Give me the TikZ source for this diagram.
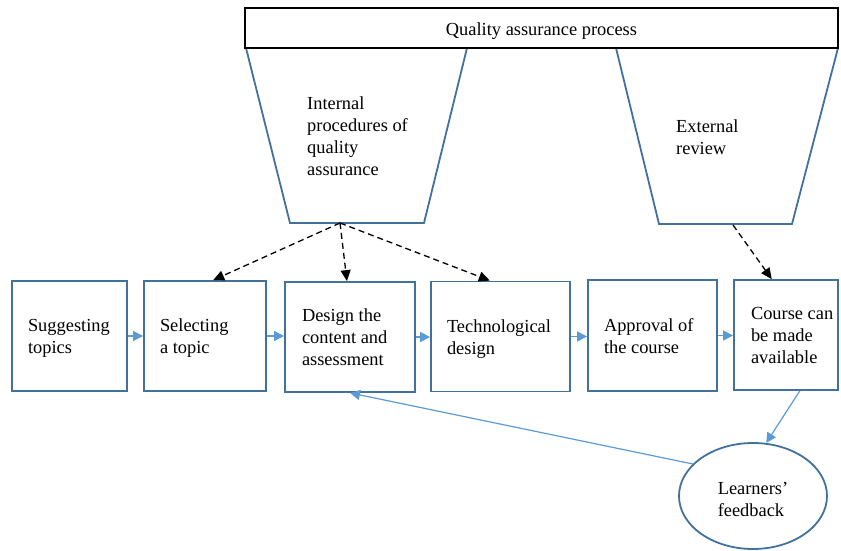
\documentclass[tikz,border=0pt]{standalone}
\usepackage{fontspec}
\setmainfont{Liberation Serif}
\usetikzlibrary{arrows.meta,shapes.geometric,calc}
\definecolor{boxblue}{HTML}{41719C}
\definecolor{arrowblue}{HTML}{5B9BD5}
% left-aligned multi-line text block
\newcommand\stack[1]{\begin{tabular}{@{}l@{}}#1\end{tabular}}
% text lowered a little without changing the size the node sees
\newcommand\lowered[2]{\raisebox{-#1}[\height][\depth]{#2}}
% fixed-width text block, left aligned, centred in its box
\newcommand\boxtext[2]{\lowered{2.5pt}{\makebox[#1][l]{\stack{#2}}}}

\begin{document}
\begin{tikzpicture}[x=1pt,y=-1pt,
  every node/.style={font=\fontsize{18.4}{22}\selectfont},
  stepbox/.style={draw=boxblue,line width=1.8pt,fill=white,minimum height=110pt,inner sep=0pt},
  trap/.style={draw=boxblue,line width=1.8pt,line join=miter},
  flow/.style={draw=arrowblue,line width=1.2pt,-{Triangle[length=10pt,width=10pt]}},
  dasharrow/.style={draw=black,line width=1.3pt,dash pattern=on 6pt off 4pt,-{Triangle[length=11pt,width=10pt]}},
  plain/.style={inner sep=0pt}]
\useasboundingbox (0,0) rectangle (841,551);

% quality assurance components
\draw[trap] (246,48) -- (290,223) -- (424,223) -- (467,48);
\draw[trap] (616,48) -- (659,224) -- (792,224) -- (838,48);
\node[draw=black,line width=1.8pt,fill=white,minimum width=593pt,minimum height=40pt,inner sep=0pt]
  (qa) at (541.5,28) {\lowered{3pt}{Quality assurance process}};
\node[plain,anchor=west] (ipt) at (307,138) {\stack{Internal\\procedures of\\quality\\assurance}};
\node[plain,anchor=west] (ert) at (676,139) {\stack{External\\review}};
\coordinate (ip) at (340,223);
\coordinate (ep) at (733,225);

% course development steps
\node[stepbox,minimum width=115pt] (b1) at (69.5,336) {\boxtext{83pt}{Suggesting\\topics}};
\node[stepbox,minimum width=122pt] (b2) at (205,336) {\boxtext{90pt}{Selecting\\a topic}};
\node[stepbox,minimum width=130pt] (b3) at (350,337) {\boxtext{96pt}{Design the\\content and\\assessment}};
\node[stepbox,minimum width=139pt] (b4) at (500.5,336.5) {\boxtext{107pt}{Technological\\design}};
\node[stepbox,minimum width=129pt,minimum height=111pt] (b5) at (652.5,335.5) {\boxtext{97pt}{Approval of\\the course}};
\node[stepbox,minimum width=104pt] (b6) at (786,335) {\boxtext{70pt}{Course can\\be made\\available}};

\node[draw=boxblue,line width=1.8pt,ellipse,minimum width=148pt,minimum height=106pt,inner sep=0pt]
  (fb) at (753,496) {\lowered{5pt}{\stack{Learners’\\feedback}}};

% flow between steps
\draw[flow] (b1.east) -- (b1.east -| b2.west);
\draw[flow] (b2.east) -- (b2.east -| b3.west);
\draw[flow] (b3.east) -- (b3.east -| b4.west);
\draw[flow] (b4.east) -- (b4.east -| b5.west);
\draw[flow] (b5.east) -- (b5.east -| b6.west);

% quality assurance links
\draw[dasharrow] (ip) -- ($(b2.north west)!0.566!(b2.north east)$);
\draw[dasharrow] (ip) -- ($(b3.north west)!0.477!(b3.north east)$);
\draw[dasharrow] (ip) -- ($(b4.north west)!0.424!(b4.north east)$);
\draw[dasharrow] (ep) -- ($(b6.north west)!0.365!(b6.north east)$);

% feedback loop
\draw[flow] ($(b6.south west)!0.63!(b6.south east)$) -- (fb.76);
\draw[flow] (fb.152) -- (b3.south);
\end{tikzpicture}
\end{document}
